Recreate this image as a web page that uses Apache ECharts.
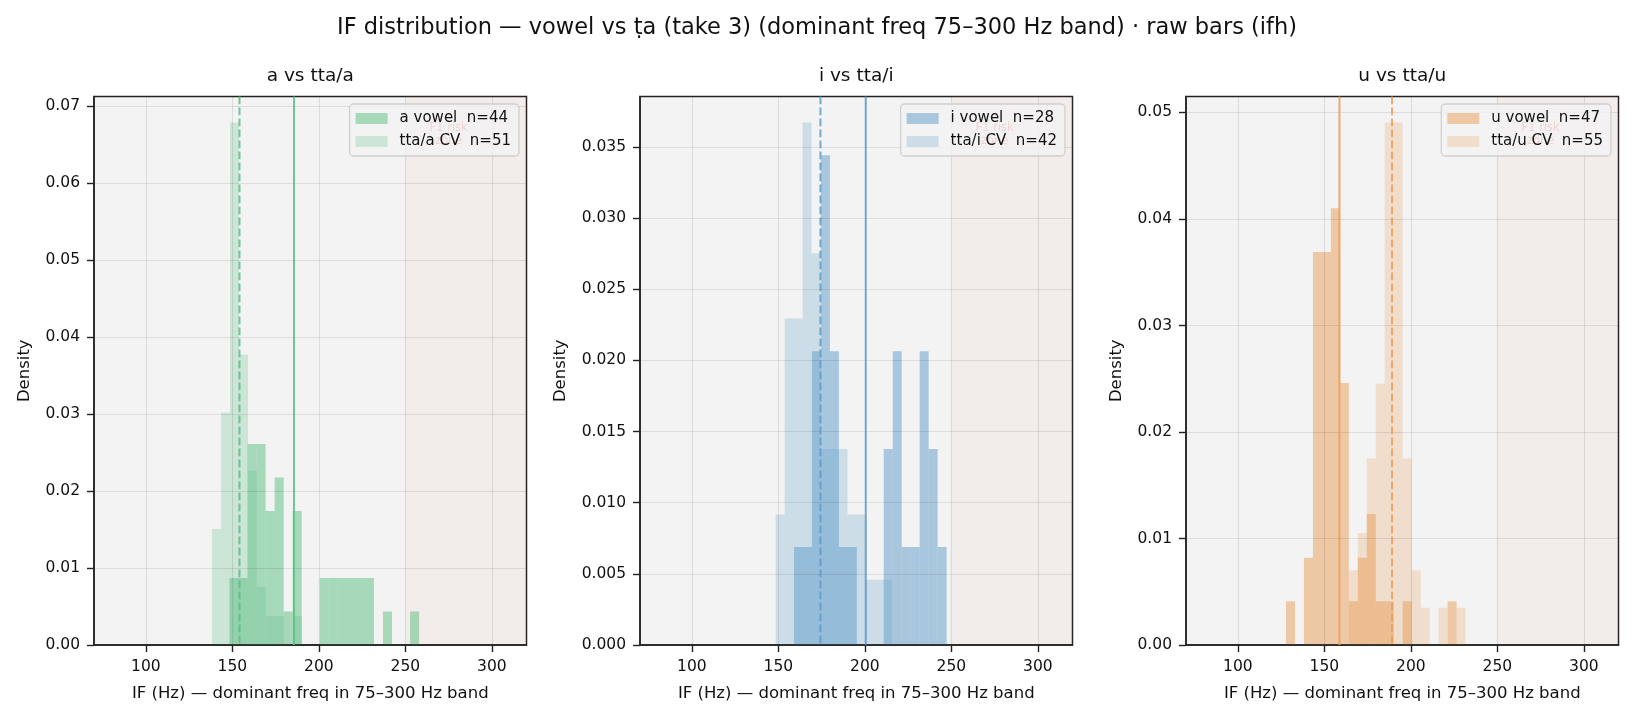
<!DOCTYPE html>
<html>
<head>
<meta charset="utf-8">
<script src="https://cdn.jsdelivr.net/npm/echarts@6/dist/echarts.min.js"></script>
<style>
html,body{margin:0;padding:0;background:#ffffff;}
#chart{width:1634px;height:719px;}
</style>
</head>
<body>
<div id="chart"></div>
<script>
// ---------------- data ----------------
const SUPTITLE = 'IF distribution — vowel vs ṭa (take 3) (dominant freq 75–300 Hz band) · raw bars (ifh)';
const PANEL_TITLES = ['a vs tta/a', 'i vs tta/i', 'u vs tta/u'];
const VOWEL_LABELS = ['a vowel', 'i vowel', 'u vowel'];
const CV_LABELS = ['tta/a CV', 'tta/i CV', 'tta/u CV'];
const VOWEL_N = [44, 28, 47];
const CV_N = [51, 42, 55];

const X_NAME = 'IF (Hz) — dominant freq in 75–300 Hz band';
const Y_NAME = 'Density';
const X_MIN = 70, X_MAX = 320;
const X_TICKS = [100, 150, 200, 250, 300];
const Y_TICK_STEP = [0.01, 0.005, 0.01];
const Y_TICK_DECIMALS = [2, 3, 2];
const F1_ZONE = [250, 320];
const F1_LABEL_X = 275;
const F1_LABEL = 'F1 risk\nzone';

// histogram bins: first edge, bin width, counts per bin
const A_VOWEL_START = 148.3, A_VOWEL_WIDTH = 5.22;
const A_VOWEL_COUNTS = [2, 2, 6, 6, 4, 5, 1, 4, 0, 0, 2, 2, 2, 2, 2, 2, 0, 1, 0, 0, 1];
const A_CV_START = 138.2, A_CV_WIDTH = 5.2;
const A_CV_COUNTS = [4, 8, 18, 10, 6, 2, 1, 1, 0, 1];

const I_VOWEL_START = 159.0, I_VOWEL_WIDTH = 5.19;
const I_VOWEL_COUNTS = [1, 1, 3, 5, 3, 1, 1, 0, 0, 0, 2, 3, 1, 1, 3, 2, 1];
const I_CV_START = 148.4, I_CV_WIDTH = 5.19;
const I_CV_COUNTS = [2, 5, 5, 8, 6, 3, 3, 3, 2, 2, 1, 1, 1];

const U_VOWEL_START = 127.8, U_VOWEL_WIDTH = 5.19;
const U_VOWEL_COUNTS = [1, 0, 2, 9, 9, 10, 6, 1, 2, 3, 1, 1, 0, 1, 0, 0, 0, 0, 1];
const U_CV_START = 164.1, U_CV_WIDTH = 5.19;
const U_CV_COUNTS = [2, 3, 5, 7, 14, 14, 5, 2, 1, 0, 1, 0, 1];

// means (vertical lines)
const VOWEL_MEANS = [185.6, 200.5, 158.7];
const CV_MEANS = [154.1, 174.3, 189.1];

// ---------------- styling ----------------
const BASE_RGB = [[89, 189, 129], [93, 155, 201], [233, 157, 87]];
const FONT = 'DejaVu Sans';
const PANEL_LEFT = [94, 640, 1186];
const PANEL_W = 432.5, PANEL_TOP = 96.5, PANEL_H = 548.5;
const LEGEND_RIGHT = [1115, 569, 23];
const NAME_GAP_Y = [61, 71, 61];

const rgba = (c, a) => `rgba(${c[0]},${c[1]},${c[2]},${a})`;

function histData(start, width, counts, n) {
  const out = [];
  counts.forEach((c, k) => {
    if (c > 0) out.push([start + k * width, start + (k + 1) * width, c / (n * width)]);
  });
  return out;
}

const panels = [
  { vowel: histData(A_VOWEL_START, A_VOWEL_WIDTH, A_VOWEL_COUNTS, VOWEL_N[0]),
    cv: histData(A_CV_START, A_CV_WIDTH, A_CV_COUNTS, CV_N[0]) },
  { vowel: histData(I_VOWEL_START, I_VOWEL_WIDTH, I_VOWEL_COUNTS, VOWEL_N[1]),
    cv: histData(I_CV_START, I_CV_WIDTH, I_CV_COUNTS, CV_N[1]) },
  { vowel: histData(U_VOWEL_START, U_VOWEL_WIDTH, U_VOWEL_COUNTS, VOWEL_N[2]),
    cv: histData(U_CV_START, U_CV_WIDTH, U_CV_COUNTS, CV_N[2]) }
];

function barRender(params, api) {
  const p0 = api.coord([api.value(0), api.value(2)]);
  const p1 = api.coord([api.value(1), 0]);
  return {
    type: 'rect',
    shape: { x: p0[0], y: p0[1], width: p1[0] - p0[0], height: p1[1] - p0[1] },
    style: api.style()
  };
}

const grids = [], xAxes = [], yAxes = [], series = [], legends = [], titles = [];

titles.push({
  text: SUPTITLE, left: 817, top: 17, textAlign: 'center', padding: 0,
  textStyle: { fontFamily: FONT, fontSize: 22.5, fontWeight: 'normal', color: '#111' }
});

panels.forEach((p, i) => {
  const yMaxData = Math.max(...p.vowel.map(d => d[2]), ...p.cv.map(d => d[2]));
  const yMax = yMaxData * 1.05;
  const step = Y_TICK_STEP[i];
  const yTicks = [];
  for (let k = 0; k * step <= yMax + 1e-12; k++) yTicks.push(+(k * step).toFixed(6));

  grids.push({
    left: PANEL_LEFT[i], top: PANEL_TOP, width: PANEL_W, height: PANEL_H,
    show: true, backgroundColor: '#f3f3f3', borderColor: '#222', borderWidth: 1.5
  });
  titles.push({
    text: PANEL_TITLES[i], left: PANEL_LEFT[i] + PANEL_W / 2, top: 67, textAlign: 'center', padding: 0,
    textStyle: { fontFamily: FONT, fontSize: 18.5, fontWeight: 'normal', color: '#111' }
  });
  xAxes.push({
    type: 'value', gridIndex: i, min: X_MIN, max: X_MAX, z: 3,
    name: X_NAME, nameLocation: 'middle', nameGap: 40,
    nameTextStyle: { fontFamily: FONT, fontSize: 16.5, color: '#111' },
    axisLine: { show: true, onZero: false, lineStyle: { color: '#222', width: 1.5 } },
    axisTick: { show: true, length: 7, lineStyle: { color: '#222', width: 1.4 }, customValues: X_TICKS },
    axisLabel: { fontFamily: FONT, fontSize: 15.5, color: '#111', margin: 14, customValues: X_TICKS },
    splitLine: { show: true, lineStyle: { color: 'rgba(0,0,0,0.09)', width: 1.2 } }
  });
  yAxes.push({
    type: 'value', gridIndex: i, min: 0, max: yMax, z: 3,
    name: Y_NAME, nameLocation: 'middle', nameGap: NAME_GAP_Y[i],
    nameTextStyle: { fontFamily: FONT, fontSize: 16.5, color: '#111' },
    axisLine: { show: true, lineStyle: { color: '#222', width: 1.5 } },
    axisTick: { show: true, length: 7, lineStyle: { color: '#222', width: 1.4 }, customValues: yTicks },
    axisLabel: {
      fontFamily: FONT, fontSize: 15.5, color: '#111', margin: 14, customValues: yTicks,
      formatter: v => Number(v).toFixed(Y_TICK_DECIMALS[i])
    },
    splitLine: { show: true, lineStyle: { color: 'rgba(0,0,0,0.09)', width: 1.2 } }
  });

  // F1 risk zone shading + label
  series.push({
    type: 'custom', name: 'f1zone' + i, xAxisIndex: i, yAxisIndex: i, z: 1, silent: true,
    data: [[F1_ZONE[0], F1_ZONE[1]]],
    encode: { x: [0, 1] },
    renderItem: (params, api) => {
      const a = api.coord([api.value(0), yMax]);
      const b = api.coord([api.value(1), 0]);
      const t = api.coord([F1_LABEL_X, yMax * 0.955]);
      return {
        type: 'group',
        children: [
          { type: 'rect', shape: { x: a[0], y: a[1], width: b[0] - a[0], height: b[1] - a[1] },
            style: { fill: 'rgba(240,128,100,0.06)' } },
          { type: 'text', x: t[0], y: t[1],
            style: { text: F1_LABEL, fill: 'rgba(214,39,40,0.75)', fontFamily: FONT, fontSize: 11.5,
                     align: 'center', verticalAlign: 'top', lineHeight: 13 } }
        ]
      };
    }
  });

  const vName = `${VOWEL_LABELS[i]}  n=${VOWEL_N[i]}`;
  const cName = `${CV_LABELS[i]}  n=${CV_N[i]}`;
  series.push({
    type: 'custom', name: vName, xAxisIndex: i, yAxisIndex: i, z: 2,
    data: p.vowel, encode: { x: [0, 1], y: 2 }, renderItem: barRender,
    itemStyle: { color: rgba(BASE_RGB[i], 0.5) }
  });
  series.push({
    type: 'custom', name: cName, xAxisIndex: i, yAxisIndex: i, z: 2,
    data: p.cv, encode: { x: [0, 1], y: 2 }, renderItem: barRender,
    itemStyle: { color: rgba(BASE_RGB[i], 0.25) }
  });
  // mean lines
  series.push({
    type: 'custom', name: 'means' + i, xAxisIndex: i, yAxisIndex: i, z: 4, silent: true,
    data: [[VOWEL_MEANS[i], 0], [CV_MEANS[i], 1]],
    encode: { x: 0 },
    renderItem: (params, api) => {
      const top = api.coord([api.value(0), yMax]);
      const bot = api.coord([api.value(0), 0]);
      const dashed = api.value(1) === 1;
      return {
        type: 'line',
        shape: { x1: top[0], y1: top[1], x2: bot[0], y2: bot[1] },
        style: { stroke: rgba(BASE_RGB[i], 0.85), lineWidth: 2, lineDash: dashed ? [7.7, 3.3] : null }
      };
    }
  });

  legends.push({
    data: [vName, cName], orient: 'vertical', right: LEGEND_RIGHT[i], top: 104, z: 6,
    icon: 'rect', itemWidth: 32, itemHeight: 11, itemGap: 6,
    padding: [6, 8, 6, 6],
    backgroundColor: 'rgba(243,243,243,0.8)', borderColor: 'rgba(204,204,204,0.9)', borderWidth: 1.3, borderRadius: 4,
    selectedMode: false,
    textStyle: { fontFamily: FONT, fontSize: 15, color: '#111', lineHeight: 17, padding: [0, 0, 0, 7] }
  });
});

const chart = echarts.init(document.getElementById('chart'), null, { renderer: 'canvas' });
chart.setOption({
  animation: false,
  backgroundColor: '#ffffff',
  title: titles,
  legend: legends,
  grid: grids,
  xAxis: xAxes,
  yAxis: yAxes,
  series: series
});
</script>
</body>
</html>
